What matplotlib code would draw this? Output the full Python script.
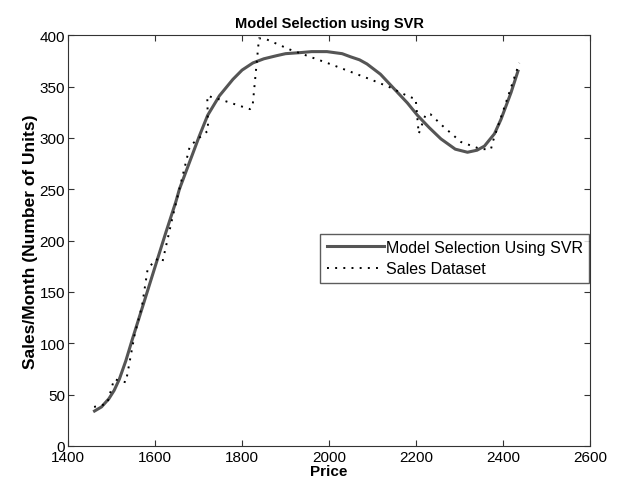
import numpy as np
import matplotlib.pyplot as plt

plt.rcParams['font.family'] = ['Liberation Sans', 'DejaVu Sans']

# SVR model curve
model_price = [1461, 1477, 1494, 1506, 1518, 1533, 1548, 1571, 1602, 1625, 1648,
               1656, 1687, 1702, 1721, 1748, 1779, 1800, 1825, 1850, 1879, 1900,
               1933, 1960, 1995, 2030, 2049, 2070, 2087, 2118, 2149, 2180, 2203,
               2230, 2257, 2290, 2318, 2340, 2357, 2380, 2395, 2418, 2434]
model_sales = [34, 38, 46, 54, 65, 83, 104, 135, 177, 208, 238,
               250, 285, 302, 322, 341, 357, 366, 373, 377, 380, 382,
               383, 384, 384, 382, 379, 376, 372, 362, 348, 334, 322,
               310, 299, 289, 286, 288, 292, 304, 318, 344, 365]

# sales dataset
data_price = [1460, 1490, 1506, 1533, 1553, 1570, 1583, 1602, 1617, 1641, 1660,
              1680, 1707, 1722, 1720, 1760, 1818, 1824, 1839, 1856, 1910, 2002,
              2095, 2141, 2184, 2199, 2206, 2222, 2233, 2260, 2303, 2349, 2372,
              2376, 2437]
data_sales = [38, 41, 65, 62, 108, 136, 172, 182, 179, 224, 257,
              292, 302, 307, 341, 336, 328, 330, 397, 396, 386, 372,
              357, 349, 340, 338, 304, 323, 323, 312, 296, 289, 289,
              296, 373]

fig = plt.figure(figsize=(6.18, 4.89), dpi=100)
ax = fig.add_axes([0.110, 0.086, 0.845, 0.840])

ax.plot(model_price, model_sales, color='#555555', lw=2.2, ls='-',
        label='Model Selection Using SVR')
ax.plot(data_price, data_sales, color='black', lw=1.4, ls=(0, (1, 3.2)),
        label='Sales Dataset')

ax.set_xlim(1400, 2600)
ax.set_ylim(0, 400)
ax.set_xticks(np.arange(1400, 2601, 200))
ax.set_yticks(np.arange(0, 401, 50))
ax.tick_params(direction='in', top=True, right=True, labelsize=11, length=4,
               color='#333333', pad=2)
ax.tick_params(axis='x', pad=3)
for s in ax.spines.values():
    s.set_color('#333333')

ax.set_title('Model Selection using SVR', fontsize=10.5, fontweight='bold', pad=6)
ax.set_xlabel('Price', fontsize=11, fontweight='bold', labelpad=0)
ax.set_ylabel('Sales/Month (Number of Units)', fontsize=12.5, fontweight='bold',
              labelpad=1)

leg = ax.legend(loc='upper right', bbox_to_anchor=(0.9983, 0.517), fontsize=11.5,
                frameon=True, fancybox=False, edgecolor='#333333',
                handlelength=3.6, handletextpad=0.1, borderpad=0.4,
                labelspacing=0.4, borderaxespad=0)
leg.get_frame().set_linewidth(1.0)

fig.savefig('out.png', dpi=100)
